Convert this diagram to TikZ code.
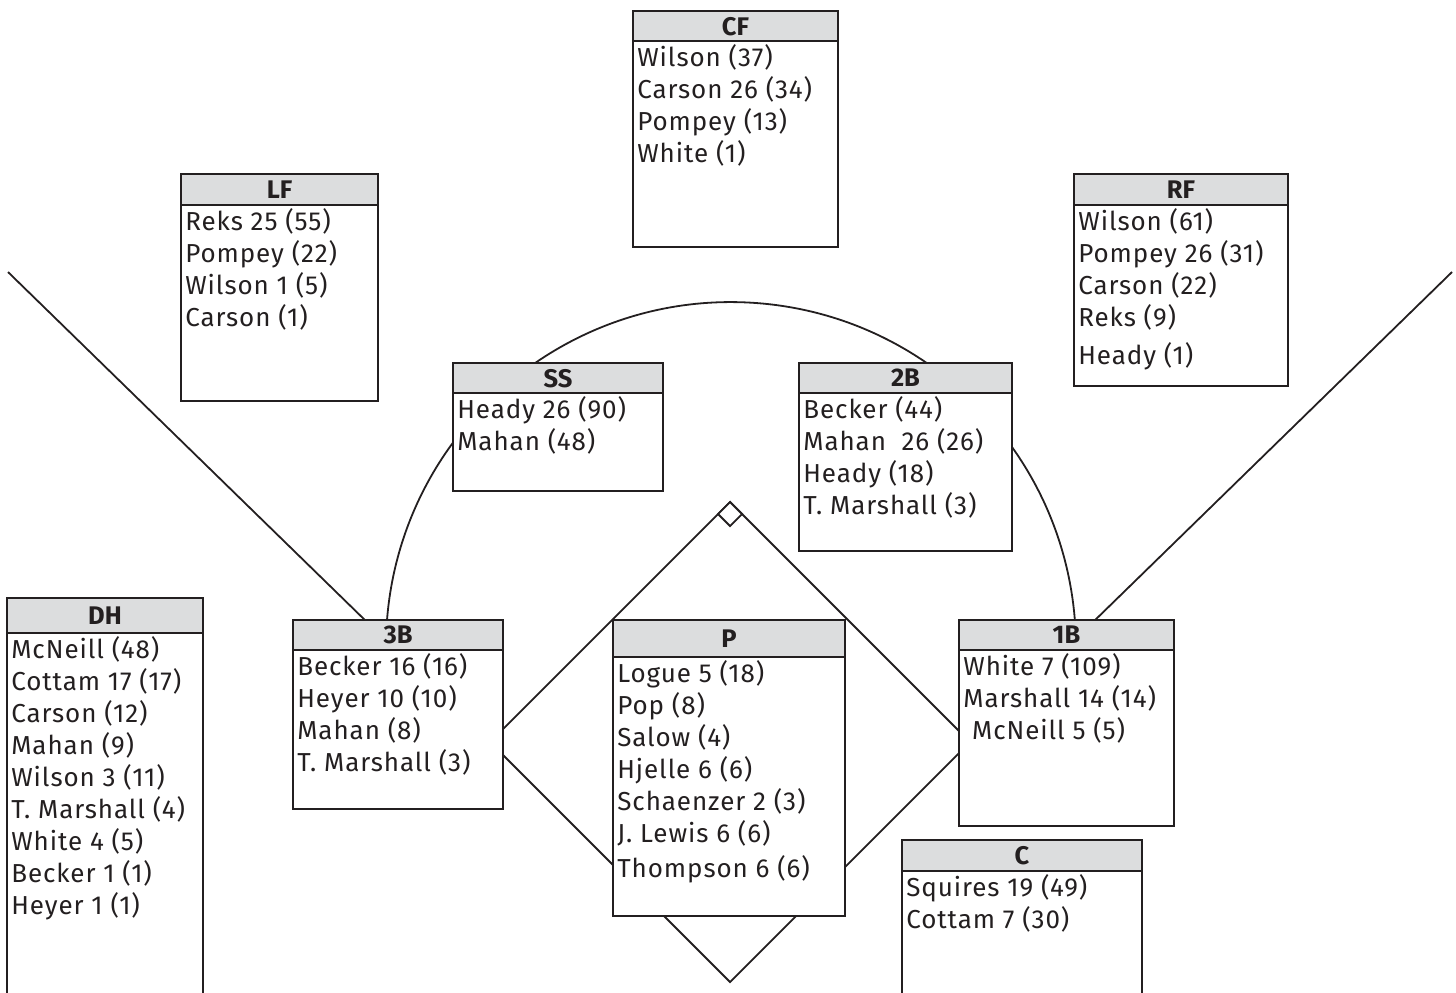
\documentclass[tikz,border=0pt]{standalone}
\usepackage{fontspec}
\setmainfont{Fira Sans}
\usetikzlibrary{calc}
\usepackage{xcolor}
\def\px{0.02cm}
\definecolor{lineDark}{HTML}{231F20}
\definecolor{headGray}{HTML}{DCDDDE}
\tikzset{
    BoxFrame/.style={draw=lineDark, line width=1.5*\px, fill=white, inner sep=0pt, outer sep=0pt, anchor=north west},
    HeadBar/.style={draw=lineDark, line width=1.5*\px, fill=headGray, inner sep=0pt, outer sep=0pt, anchor=north west, text depth=0pt, font=\fontsize{14.5}{18}\selectfont\bfseries, text=lineDark},
    RowText/.style={anchor=base west, inner sep=0pt, font=\fontsize{14.8}{18}\selectfont\addfontfeatures{LetterSpace=3.5}, text=lineDark},
    FieldLine/.style={draw=lineDark, line width=1.8*\px}
}
% #1 name, #2 x, #3 y, #4 width, #5 height, #6 header height, #7 title, #8 rows
\newcommand\PosBox[8]{%
    \node[BoxFrame, minimum width=#4*\px, minimum height=#5*\px] (#1) at (#2,#3) {};
    \node[HeadBar, minimum width=#4*\px, minimum height=#6*\px] (#1-head) at (#2,#3) {#7};
    \foreach \row [count=\i] in {#8}
        \node[RowText] (#1-row\i) at ($(#1-head.south west)+(4,{25+32*(\i-1)})$) {\row};
}

\begin{document}
\begin{tikzpicture}[x=0.02cm, y=-0.02cm]
    \useasboundingbox (0,0) rectangle (1456,992);
    \clip (0,0) rectangle (1456,992);

    % --- bases ---
    \coordinate (home) at (730,982);
    \coordinate (third) at (490,742);
    \coordinate (first) at (970,742);
    \coordinate (second) at (730,502);
    \coordinate (leftPole) at (8,272);
    \coordinate (rightPole) at (1452,272);

    % foul lines and infield
    \draw[FieldLine] (leftPole) -- (third) -- (home) -- (first) -- (rightPole);
    \draw[FieldLine] (third) -- (second) -- (first);
    \draw[FieldLine, fill=white] (second) -- ++(12,12) -- ++(-12,12) -- ++(-12,-12) -- cycle;

    % grass line
    \draw[FieldLine] (387,620) arc[start angle=184.5, end angle=355.5, radius=345];

    % --- position boxes ---
    \PosBox{cf}{633}{11}{205}{236}{30}{CF}{Wilson (37), Carson 26 (34), Pompey (13), White (1)}
    \PosBox{lf}{181}{174}{197}{227}{31}{LF}{Reks 25 (55), Pompey (22), Wilson 1 (5), Carson (1)}
    \PosBox{rf}{1074}{174}{214}{212}{31}{RF}{Wilson (61), Pompey 26 (31), Carson (22), Reks (9), \raisebox{-0.12cm}{Heady (1)}}
    \PosBox{ss}{453}{363}{210}{128}{30}{SS}{Heady 26 (90), Mahan (48)}
    \PosBox{2b}{799}{363}{213}{188}{30}{2B}{Becker (44), Mahan~ 26 (26), Heady (18), T. Marshall (3)}
    \PosBox{3b}{293}{620}{210}{189}{30}{3B}{Becker 16 (16), Heyer 10 (10), Mahan (8), T. Marshall (3)}
    \PosBox{p}{613}{620}{232}{296}{37}{P}{Logue 5 (18), Pop (8), Salow (4), Hjelle 6 (6), Schaenzer 2 (3), J. Lewis 6 (6), \raisebox{-0.06cm}{Thompson 6 (6)}}
    \PosBox{1b}{959}{620}{215}{206}{30}{1B}{White 7 (109), Marshall 14 (14), \kern5pt McNeill 5 (5)}
    \PosBox{dh}{7}{598}{196}{420}{35}{DH}{McNeill (48), Cottam 17 (17), Carson (12), Mahan (9), Wilson 3 (11), T. Marshall (4), White 4 (5), Becker 1 (1), Heyer 1 (1)}
    \PosBox{c}{902}{840}{240}{180}{31}{C}{Squires 19 (49), Cottam 7 (30)}
\end{tikzpicture}
\end{document}
